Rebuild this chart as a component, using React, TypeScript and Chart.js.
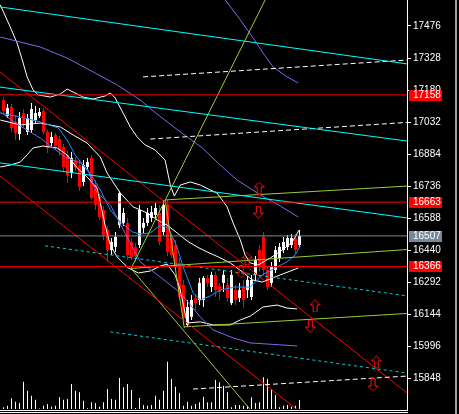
import React, { useEffect, useRef } from 'react';
import { Chart, registerables } from 'chart.js';

Chart.register(...registerables);

const xMin = -0.875;
const xMax = 100.875;
const yMin = 15708;
const yMax = 17596;
const volMax = 40900;

const yTicks = [17476, 17328, 17180, 17032, 16884, 16736, 16588, 16440, 16292, 16144, 15996, 15848];

const candleOpen = [
  17134, 17061, 17102, 17033, 16977, 17074, 16987, 16996, 17042, 17061,
  17084, 16987, 16936, 16973, 16954, 16917, 16881, 16797, 16857, 16834,
  16756, 16825, 16867, 16742, 16687, 16627, 16534, 16442, 16456, 16557,
  16567, 16567, 16479, 16456, 16465, 16544, 16567, 16590, 16604, 16613,
  16525, 16650, 16497, 16465, 16382, 16281, 16096, 16133, 16220, 16211,
  16211, 16313, 16271, 16327, 16276, 16290, 16281, 16197, 16257, 16220,
  16271, 16257, 16225, 16327, 16442, 16502, 16350, 16290, 16350, 16405,
  16442, 16456, 16465, 16497, 16465,
];
const candleClose = [
  17084, 17097, 17005, 16982, 17051, 17024, 17051, 17093, 17074, 17079,
  16987, 16913, 16964, 16922, 16904, 16825, 16784, 16867, 16825, 16733,
  16834, 16848, 16682, 16650, 16594, 16511, 16442, 16479, 16502, 16705,
  16613, 16419, 16410, 16414, 16627, 16567, 16613, 16617, 16636, 16479,
  16650, 16433, 16419, 16364, 16225, 16128, 16179, 16211, 16197, 16290,
  16313, 16290, 16327, 16257, 16248, 16327, 16220, 16327, 16211, 16257,
  16211, 16304, 16304, 16396, 16364, 16350, 16271, 16364, 16442, 16456,
  16479, 16497, 16497, 16442, 16507,
];
const candleHigh = [
  17148, 17116, 17116, 17065, 17079, 17093, 17070, 17121, 17107, 17097,
  17097, 16996, 16987, 16982, 16968, 16931, 16904, 16894, 16871, 16853,
  16857, 16867, 16881, 16765, 16701, 16645, 16553, 16497, 16525, 16714,
  16636, 16590, 16497, 16474, 16650, 16590, 16636, 16645, 16659, 16650,
  16673, 16673, 16516, 16488, 16405, 16304, 16211, 16234, 16239, 16313,
  16322, 16327, 16341, 16341, 16290, 16350, 16313, 16350, 16281, 16290,
  16304, 16322, 16327, 16414, 16465, 16525, 16368, 16387, 16461, 16474,
  16502, 16511, 16516, 16516, 16534,
];
const candleLow = [
  17074, 17051, 16987, 16950, 16950, 17005, 16973, 16982, 17028, 17051,
  16977, 16890, 16922, 16904, 16876, 16802, 16751, 16774, 16807, 16714,
  16737, 16811, 16673, 16627, 16581, 16488, 16387, 16419, 16433, 16544,
  16553, 16396, 16396, 16387, 16451, 16521, 16553, 16571, 16590, 16465,
  16511, 16414, 16405, 16350, 16211, 16096, 16087, 16119, 16165, 16188,
  16179, 16271, 16248, 16225, 16211, 16248, 16202, 16188, 16188, 16202,
  16174, 16220, 16211, 16304, 16341, 16322, 16257, 16271, 16336, 16387,
  16428, 16442, 16451, 16428, 16456,
];
const volume = [
  167, 333, 1067, 733, 600, 2733, 1833, 1333, 933, 50,
  333, 500, 233, 333, 1167, 933, 1000, 2500, 1833, 1667,
  833, 67, 667, 600, 233, 667, 2000, 1000, 933, 3100,
  2167, 2500, 1900, 100, 1100, 400, 333, 400, 1333, 933,
  1833, 4733, 3000, 2233, 1600, 333, 733, 333, 500, 667,
  1233, 667, 667, 2900, 2667, 2333, 1667, 167, 400, 400,
  333, 333, 1167, 600, 667, 3167, 3000, 2000, 1400, 167,
  333, 400, 233, 333, 900,
];

// indicator curves [barIndex, price]
const maFast = [[-0.8,17074],[4.2,17056],[9.2,17033],[13.7,17005],[15.9,16950],[17.9,16881],[19.9,16834],[22.4,16774],[24.2,16719],[26.7,16627],[29.2,16571],[32.2,16525],[34.2,16516],[36.7,16521],[39.2,16557],[41.2,16544],[43.4,16456],[44.9,16364],[47.4,16244],[49.2,16211],[51.7,16230],[54.2,16257],[57.9,16271],[61.7,16271],[64.7,16327],[68.4,16364],[70.9,16387],[72.9,16419],[74.2,16461]];
const maSlow = [[-0.8,17425],[9.2,17379],[15.9,17328],[22.4,17264],[28.4,17204],[34.2,17134],[37.4,17084],[42.9,17005],[49.7,16913],[54.2,16834],[58.4,16765],[64.2,16696],[69.2,16645],[73.7,16594]];
const envUpper = [[54.9,17610],[59.2,17504],[62.4,17421],[64.9,17351],[67.4,17287],[70.9,17241],[73.7,17213]];
const envLower = [[-0.8,17079],[4.2,17014],[9.2,16959],[15.4,16871],[19.2,16844],[21.2,16811],[22.9,16719],[26.7,16650],[29.2,16562],[32.2,16456],[34.2,16387],[39.2,16317],[44.2,16244],[49.2,16133],[52.4,16073],[57.4,16036],[61.7,16013],[73.4,15999]];
const bandUpper = [[-0.8,17573],[1.7,17471],[3.4,17397],[4.7,17319],[5.9,17241],[7.4,17181],[8.7,17158],[11.7,17148],[14.2,17162],[15.9,17185],[17.4,17171],[19.9,17148],[22.4,17139],[25.4,17153],[26.7,17167],[27.9,17144],[29.9,17074],[31.7,17010],[33.4,16964],[35.4,16927],[37.9,16904],[40.4,16857],[41.7,16742],[42.7,16691],[44.2,16742],[46.7,16756],[49.2,16742],[51.7,16719],[53.4,16705],[55.9,16641],[57.4,16567],[59.2,16488],[60.4,16419],[61.7,16382],[63.7,16373],[66.7,16405],[69.7,16442],[72.2,16479],[73.9,16534]];
const bandMid = [[-0.8,17042],[4.2,17019],[9.2,17028],[14.2,17010],[17.4,16973],[20.9,16936],[24.2,16871],[25.9,16797],[29.2,16705],[32.4,16641],[35.9,16613],[38.4,16581],[40.9,16557],[43.4,16521],[45.9,16484],[48.4,16456],[50.9,16433],[53.7,16410],[56.7,16382],[59.7,16341],[62.2,16304],[64.7,16294],[69.2,16327],[73.7,16359]];
const bandLower = [[-0.8,16825],[1.7,16834],[4.2,16848],[5.9,16881],[7.4,16913],[9.9,16922],[13.4,16913],[15.9,16881],[18.4,16821],[20.9,16779],[23.4,16728],[25.4,16557],[26.7,16465],[28.4,16410],[31.2,16359],[33.7,16336],[36.7,16345],[39.2,16368],[40.9,16377],[42.9,16327],[44.2,16257],[45.9,16105],[49.2,16110],[52.4,16096],[56.7,16096],[59.2,16119],[61.7,16137],[64.9,16179],[68.4,16188],[70.9,16174],[73.4,16170]];

// drawn objects [barIndex, price]
const cyanLine1 = [[xMin,17564],[xMax,17301]];
const cyanLine2 = [[xMin,17194],[xMax,16945]];
const cyanLine3 = [[xMin,16844],[xMax,16590]];
const cyanDash1 = [[10.4,16461],[xMax,16230]];
const cyanDash2 = [[26.7,16064],[xMax,15874]];
const whiteDash1 = [[34.9,17241],[xMax,17319]];
const whiteDash2 = [[36.7,16954],[xMax,17031]];
const whiteDash3 = [[47.4,15800],[xMax,15860]];
const redDiag1 = [[xMin,17264],[xMax,15782]];
const redDiag2 = [[xMin,16784],[74.2,15694]];
const greenFan1 = [[65.9,17614],[31.9,16357]];
const greenFan2 = [[40.4,16673],[45.2,16082]];
const greenFan3 = [[31.9,16357],[62.4,15690]];
const greenLine4 = [[40.4,16673],[xMax,16737]];
const greenLine5 = [[31.9,16357],[xMax,16444]];
const greenLine6 = [[45.2,16087],[xMax,16149]];

const redLevels = [17158, 16663, 16366];
const lastPrice = 16507;

const arrowsUp = [[63.9,16728],[60.9,16401],[77.9,16184],[93.2,15925]];
const arrowsDown = [[63.7,16617],[59.4,16341],[76.7,16091],[92.4,15819]];

const FONT_FAMILY = "'Liberation Sans Narrow', 'Liberation Sans', Arial, sans-serif";

function pts(arr: number[][]) {
  return arr.map(([x, y]) => ({ x, y }));
}

function makeArrow(up: boolean): HTMLCanvasElement {
  const c = document.createElement('canvas');
  c.width = 11;
  c.height = 13;
  const g = c.getContext('2d') as CanvasRenderingContext2D;
  g.strokeStyle = '#ff1010';
  g.lineWidth = 1;
  const P = up
    ? [[5.5,0.5],[10.5,5.5],[7.5,5.5],[7.5,12.5],[3.5,12.5],[3.5,5.5],[0.5,5.5]]
    : [[5.5,12.5],[10.5,7.5],[7.5,7.5],[7.5,0.5],[3.5,0.5],[3.5,7.5],[0.5,7.5]];
  g.beginPath();
  P.forEach(([x, y], i) => (i === 0 ? g.moveTo(x, y) : g.lineTo(x, y)));
  g.closePath();
  g.stroke();
  return c;
}

function line(data: number[][], color: string, order: number, dash: number[] = []) {
  return {
    type: 'line',
    data: pts(data),
    borderColor: color,
    backgroundColor: color,
    borderWidth: 1,
    borderDash: dash,
    pointRadius: 0,
    tension: 0,
    fill: false,
    order,
    xAxisID: 'x',
    yAxisID: 'y',
  };
}

const mt4Plugin = {
  id: 'mt4',
  beforeDraw(chart: any) {
    const { ctx, width, height } = chart;
    ctx.save();
    ctx.fillStyle = '#000000';
    ctx.fillRect(0, 0, width, height);
    ctx.restore();
  },
  afterDraw(chart: any) {
    const { ctx, chartArea } = chart;
    const ys = chart.scales.y;
    ctx.save();
    ctx.fillStyle = '#ffffff';
    ctx.fillRect(0, 410, chartArea.right + 1, 1);
    ctx.fillRect(0, 412, chartArea.right + 1, 1);
    ctx.fillStyle = '#a0a0a0';
    ctx.fillRect(455, 0, 2, chart.height);
    const boxes: [number, string][] = [
      ...redLevels.map((v) => [v, '#ff0000'] as [number, string]),
      [lastPrice, '#778899'],
    ];
    ctx.font = `10px ${FONT_FAMILY}`;
    ctx.textBaseline = 'middle';
    ctx.textAlign = 'left';
    boxes.forEach(([v, col]) => {
      const y = Math.round(ys.getPixelForValue(v));
      ctx.fillStyle = col;
      ctx.fillRect(409, y - 5, 33, 11);
      ctx.fillStyle = '#ffffff';
      ctx.fillText(String(v), 413, y + 0.5);
    });
    ctx.restore();
  },
};

export default function App() {
  const ref = useRef<HTMLCanvasElement | null>(null);

  useEffect(() => {
    if (!ref.current) return;
    const upImg = makeArrow(true);
    const downImg = makeArrow(false);
    const candleColors = candleOpen.map((o, i) => (candleClose[i] >= o ? '#ffffff' : '#ff0000'));

    const datasets: any[] = [
      {
        type: 'bar',
        data: volume.map((v, i) => ({ x: i, y: v })),
        backgroundColor: '#ffffff',
        barThickness: 1,
        grouped: false,
        inflateAmount: 0,
        borderWidth: 0,
        order: 100,
        xAxisID: 'x',
        yAxisID: 'yv',
      },
      {
        type: 'bar',
        data: candleLow.map((l, i) => ({ x: i, y: [l, candleHigh[i]] })),
        backgroundColor: candleColors,
        barThickness: 1,
        grouped: false,
        inflateAmount: 0,
        borderWidth: 0,
        order: 90,
        xAxisID: 'x',
        yAxisID: 'y',
      },
      {
        type: 'bar',
        data: candleOpen.map((o, i) => ({ x: i, y: [o, candleClose[i]] })),
        backgroundColor: candleColors,
        barThickness: 3,
        grouped: false,
        inflateAmount: 0,
        borderWidth: 0,
        order: 80,
        xAxisID: 'x',
        yAxisID: 'y',
      },
      line(bandUpper, '#ffffff', 50),
      line(bandMid, '#ffffff', 50),
      line(bandLower, '#ffffff', 50),
      line(maSlow, '#7b68ee', 49),
      line(envUpper, '#7b68ee', 49),
      line(envLower, '#7b68ee', 49),
      line(maFast, '#1e90ff', 48),
      line(cyanLine1, '#00ffff', 20),
      line(cyanLine2, '#00ffff', 20),
      line(cyanLine3, '#00ffff', 20),
      line(cyanDash1, '#00d0d0', 20, [3, 3]),
      line(cyanDash2, '#00d0d0', 20, [3, 3]),
      line(whiteDash1, '#ffffff', 20, [5, 3]),
      line(whiteDash2, '#ffffff', 20, [5, 3]),
      line(whiteDash3, '#ffffff', 20, [5, 3]),
      line(redDiag1, '#ff0000', 20),
      line(redDiag2, '#ff0000', 20),
      line(greenFan1, '#9acd32', 20),
      line(greenFan2, '#9acd32', 20),
      line(greenFan3, '#9acd32', 20),
      line(greenLine4, '#9acd32', 20),
      line(greenLine5, '#9acd32', 20),
      line(greenLine6, '#9acd32', 20),
      ...redLevels.map((v) => line([[xMin, v], [xMax, v]], '#ff0000', 15)),
      line([[xMin, lastPrice], [xMax, lastPrice]], '#778899', 16),
      {
        type: 'line',
        data: pts(arrowsUp),
        showLine: false,
        pointStyle: upImg,
        pointRadius: 5,
        pointBorderWidth: 0,
        order: 0,
        xAxisID: 'x',
        yAxisID: 'y',
      },
      {
        type: 'line',
        data: pts(arrowsDown),
        showLine: false,
        pointStyle: downImg,
        pointRadius: 5,
        pointBorderWidth: 0,
        order: 0,
        xAxisID: 'x',
        yAxisID: 'y',
      },
    ];

    const chart = new Chart(ref.current, {
      type: 'line',
      data: { datasets },
      options: {
        animation: false,
        responsive: false,
        events: [],
        layout: { autoPadding: false, padding: { left: 0, right: 0, top: 0, bottom: 5 } },
        plugins: { legend: { display: false }, tooltip: { enabled: false } },
        scales: {
          x: {
            type: 'linear',
            min: xMin,
            max: xMax,
            display: false,
            offset: false,
            grid: { offset: false },
          },
          y: {
            type: 'linear',
            position: 'right',
            min: yMin,
            max: yMax,
            afterFit: (s: any) => {
              s.width = 52;
              s.paddingTop = 0;
              s.paddingBottom = 0;
            },
            afterBuildTicks: (s: any) => {
              s.ticks = yTicks.map((v) => ({ value: v }));
            },
            ticks: {
              color: '#ffffff',
              padding: 2,
              autoSkip: false,
              font: { family: FONT_FAMILY, size: 10 },
              callback: (v: any) => String(v),
            },
            grid: { drawOnChartArea: false, drawTicks: true, tickLength: 4, color: '#ffffff' },
            border: { display: true, color: '#ffffff', width: 1 },
          },
          yv: {
            type: 'linear',
            min: 0,
            max: volMax,
            display: false,
          },
        },
      } as any,
      plugins: [mt4Plugin],
    } as any);

    return () => chart.destroy();
  }, []);

  return (
    <div style={{ position: 'fixed', left: 0, top: 0, width: 459, height: 414, background: '#000' }}>
      <canvas ref={ref} width={459} height={414} style={{ display: 'block' }} />
    </div>
  );
}
